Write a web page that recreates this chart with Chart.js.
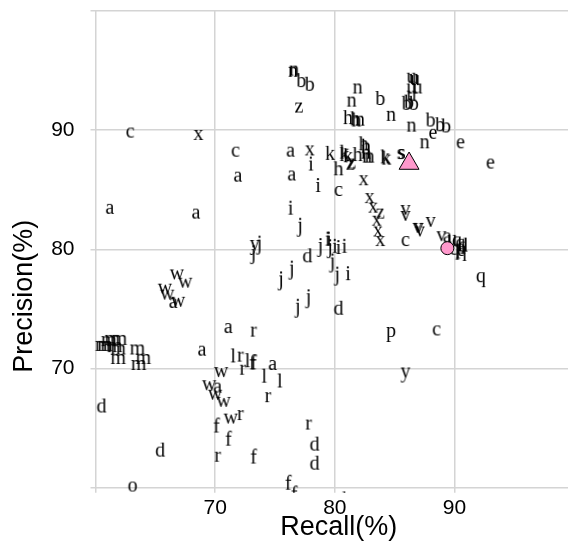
<!DOCTYPE html>
<html>
<head>
<meta charset="utf-8">
<script src="https://cdn.jsdelivr.net/npm/chart.js@4.4.1/dist/chart.umd.min.js"></script>
<style>
  body { margin: 0; background: #fff; }
  #wrap { width: 568px; height: 542px; }
</style>
</head>
<body>
<div id="wrap"><canvas id="myChart" width="568" height="542"></canvas></div>
<script>
// each run is one letter drawn at (recall, precision)
const labels = [
  'c','x','c','a','a','a','y','j','j',
  'a','x','i','a','i','i','j','k','z','n','n','b','b',
  'n','n','b','h','h','h','n','n','u','u','u','u','u','u','b','b','b','n','b','b','b','e','n','e','e','s','s',
  'k','k','k','h','z','z','h','h','h','h','n','n','k','k',
  'x','c','x','x','z','x','x','x','v','v','v','v','v','v','c',
  'i','i','i','i','i','j','j','j','j','i','d','j','j','j','j','d',
  'q','p','c','y','r','d','d','f','f','k','v','a','u','q','q','d','q','p','q',
  'w','w','w','w','a','w','a','r','m','m','m','m','m','m','m','m','m','m','m',
  'a','l','r','l','f','f','a','w','r','l','l','w','a','w','w','r','d','f','w','r','f','d','r','f','o'
];
const recall = [
  62.9,68.6,71.7,71.9,61.2,68.4,73.3,73.7,73.2,
  76.3,77.9,78.0,76.4,78.6,76.3,77.1,79.6,77.0,76.5,76.6,77.2,77.9,
  81.9,81.4,83.8,81.1,81.7,81.8,82.1,84.7,86.4,86.6,86.7,86.9,86.4,86.4,86.0,86.2,86.6,86.4,88.0,88.8,89.3,88.2,87.5,90.5,93.0,85.5,85.6,
  80.8,80.8,81.1,80.3,81.3,81.4,81.9,82.4,82.6,82.6,82.9,82.7,84.2,84.3,
  82.4,80.3,82.9,83.2,83.8,83.5,83.6,83.8,85.9,85.9,86.9,87.0,87.1,88.0,85.9,
  79.4,79.5,80.0,80.3,80.8,78.8,79.6,79.8,80.2,81.1,77.7,76.4,75.5,77.8,76.9,80.3,
  92.2,84.7,88.5,85.9,77.8,78.3,78.3,76.1,76.6,81.0,88.9,89.4,89.8,90.2,90.5,90.7,90.0,90.5,90.6,
  66.8,67.5,65.8,66.0,66.5,66.9,71.1,73.2,61.4,62.0,61.1,60.8,60.6,61.6,61.9,63.5,61.9,64.0,63.6,
  68.9,71.5,72.1,72.7,73.1,73.2,74.8,70.5,72.3,74.1,75.4,69.5,70.2,70.0,70.7,74.4,60.5,70.1,71.3,72.1,71.1,65.4,70.2,73.2,63.1
];
const precision = [
  89.8,89.6,88.2,86.1,83.4,83.0,80.2,80.4,79.6,
  88.2,88.3,87.2,86.2,85.4,83.5,81.9,88.1,91.9,94.9,95.0,94.2,93.9,
  93.5,92.4,92.7,91.1,91.0,90.9,90.8,91.2,94.4,94.3,94.2,93.5,93.5,92.9,92.3,92.4,92.3,90.3,90.9,90.5,90.4,89.7,88.9,88.9,87.2,88.0,88.0,
  88.2,88.0,87.9,86.8,87.1,87.2,88.0,88.9,88.7,88.2,87.7,87.7,87.8,87.7,
  85.8,84.9,84.3,83.5,83.0,82.4,81.5,80.7,83.3,82.8,81.8,81.8,81.5,82.3,80.7,
  80.9,80.9,80.3,80.2,80.3,80.2,80.1,78.9,77.8,78.0,79.5,78.3,77.4,75.9,75.1,75.1,
  77.5,72.9,73.2,69.5,65.3,63.7,62.1,60.5,59.6,59.1,81.1,81.0,80.8,80.5,80.3,80.4,79.8,79.9,79.7,
  77.9,77.2,76.7,76.2,75.5,75.6,73.4,73.1,72.4,72.4,72.3,71.9,71.9,71.8,71.6,71.6,70.8,70.8,70.3,
  71.5,71.1,71.0,70.7,70.6,70.6,70.3,69.7,69.9,69.4,69.0,68.6,68.4,67.8,67.2,67.6,66.9,65.3,65.8,66.1,64.2,63.2,62.6,62.7,60.1
];

// highlighted results
const triRecall = [86.2];
const triPrecision = [87.2];
const dotRecall = [89.4];
const dotPrecision = [80.1];

const xTicks = [60, 70, 80, 90];
const yTicks = [60, 70, 80, 90, 100];
const shownTicks = [70, 80, 90];
const xTitle = 'Recall(%)';
const yTitle = 'Precision(%)';

const pink = '#ff99cc';
const gridColor = '#d4d4d4';

// small canvas per letter, glyph box centred
const glyphCache = {};
function glyph(ch) {
  if (glyphCache[ch]) return glyphCache[ch];
  const c = document.createElement('canvas');
  c.width = 32; c.height = 32;
  const g = c.getContext('2d');
  g.font = '20px "Liberation Serif", "Times New Roman", serif';
  g.fillStyle = '#000';
  g.textAlign = 'center';
  g.textBaseline = 'alphabetic';
  const m = g.measureText(ch);
  const by = 16 + (m.actualBoundingBoxAscent - m.actualBoundingBoxDescent) / 2;
  g.fillText(ch, 16, by);
  glyphCache[ch] = c;
  return c;
}

const axisTitles = {
  id: 'axisTitles',
  afterDraw(chart) {
    const { ctx, chartArea } = chart;
    ctx.save();
    ctx.fillStyle = '#000';
    ctx.font = '27px "Liberation Sans", Arial, sans-serif';
    ctx.textAlign = 'center';
    ctx.textBaseline = 'middle';
    ctx.fillText(xTitle, (chartArea.left + chartArea.right) / 2 + 7, 528);
    ctx.translate(25, (chartArea.top + chartArea.bottom) / 2 + 47);
    ctx.rotate(-Math.PI / 2);
    ctx.fillText(yTitle, 0, 0);
    ctx.restore();
  }
};

const tickFont = { family: '"Liberation Sans", Arial, sans-serif', size: 21 };

function noPad(s) {
  s.paddingLeft = 0; s.paddingRight = 0; s.paddingTop = 0; s.paddingBottom = 0;
}

new Chart(document.getElementById('myChart'), {
  type: 'scatter',
  data: {
    datasets: [
      {
        data: triRecall.map((x, i) => ({ x, y: triPrecision[i] })),
        pointStyle: 'triangle',
        pointRadius: 11.5,
        backgroundColor: pink,
        borderColor: '#000',
        borderWidth: 1,
        order: 0
      },
      {
        data: dotRecall.map((x, i) => ({ x, y: dotPrecision[i] })),
        pointStyle: 'circle',
        pointRadius: 6.5,
        backgroundColor: pink,
        borderColor: '#000',
        borderWidth: 1,
        order: 0
      },
      {
        data: recall.map((x, i) => ({ x, y: precision[i] })),
        pointStyle: labels.map(glyph),
        pointRadius: 14,
        borderWidth: 0,
        clip: { left: 2, top: 10, right: 10, bottom: 5 },
        order: 1
      }
    ]
  },
  options: {
    responsive: false,
    animation: false,
    events: [],
    layout: { autoPadding: false, padding: { top: 11, right: 0, left: 0, bottom: 0 } },
    plugins: { legend: { display: false }, tooltip: { enabled: false } },
    scales: {
      x: {
        type: 'linear',
        min: 60,
        max: 99.48,
        afterBuildTicks: s => { s.ticks = xTicks.map(v => ({ value: v })); },
        afterFit: s => { s.height = 54.3; noPad(s); },
        grid: { color: gridColor, lineWidth: 1.5, tickLength: 5 },
        border: { display: false },
        ticks: {
          color: '#000',
          font: tickFont,
          padding: 3,
          maxRotation: 0,
          callback: v => shownTicks.includes(v) ? String(v) : ''
        }
      },
      y: {
        type: 'linear',
        min: 60,
        max: 100,
        afterBuildTicks: s => { s.ticks = yTicks.map(v => ({ value: v })); },
        afterFit: s => { s.width = 95.5; noPad(s); },
        grid: { color: gridColor, lineWidth: 1.5, tickLength: 5 },
        border: { display: false },
        ticks: {
          color: '#000',
          font: tickFont,
          padding: 16,
          callback: v => shownTicks.includes(v) ? String(v) : ''
        }
      }
    }
  },
  plugins: [axisTitles]
});
</script>
</body>
</html>
